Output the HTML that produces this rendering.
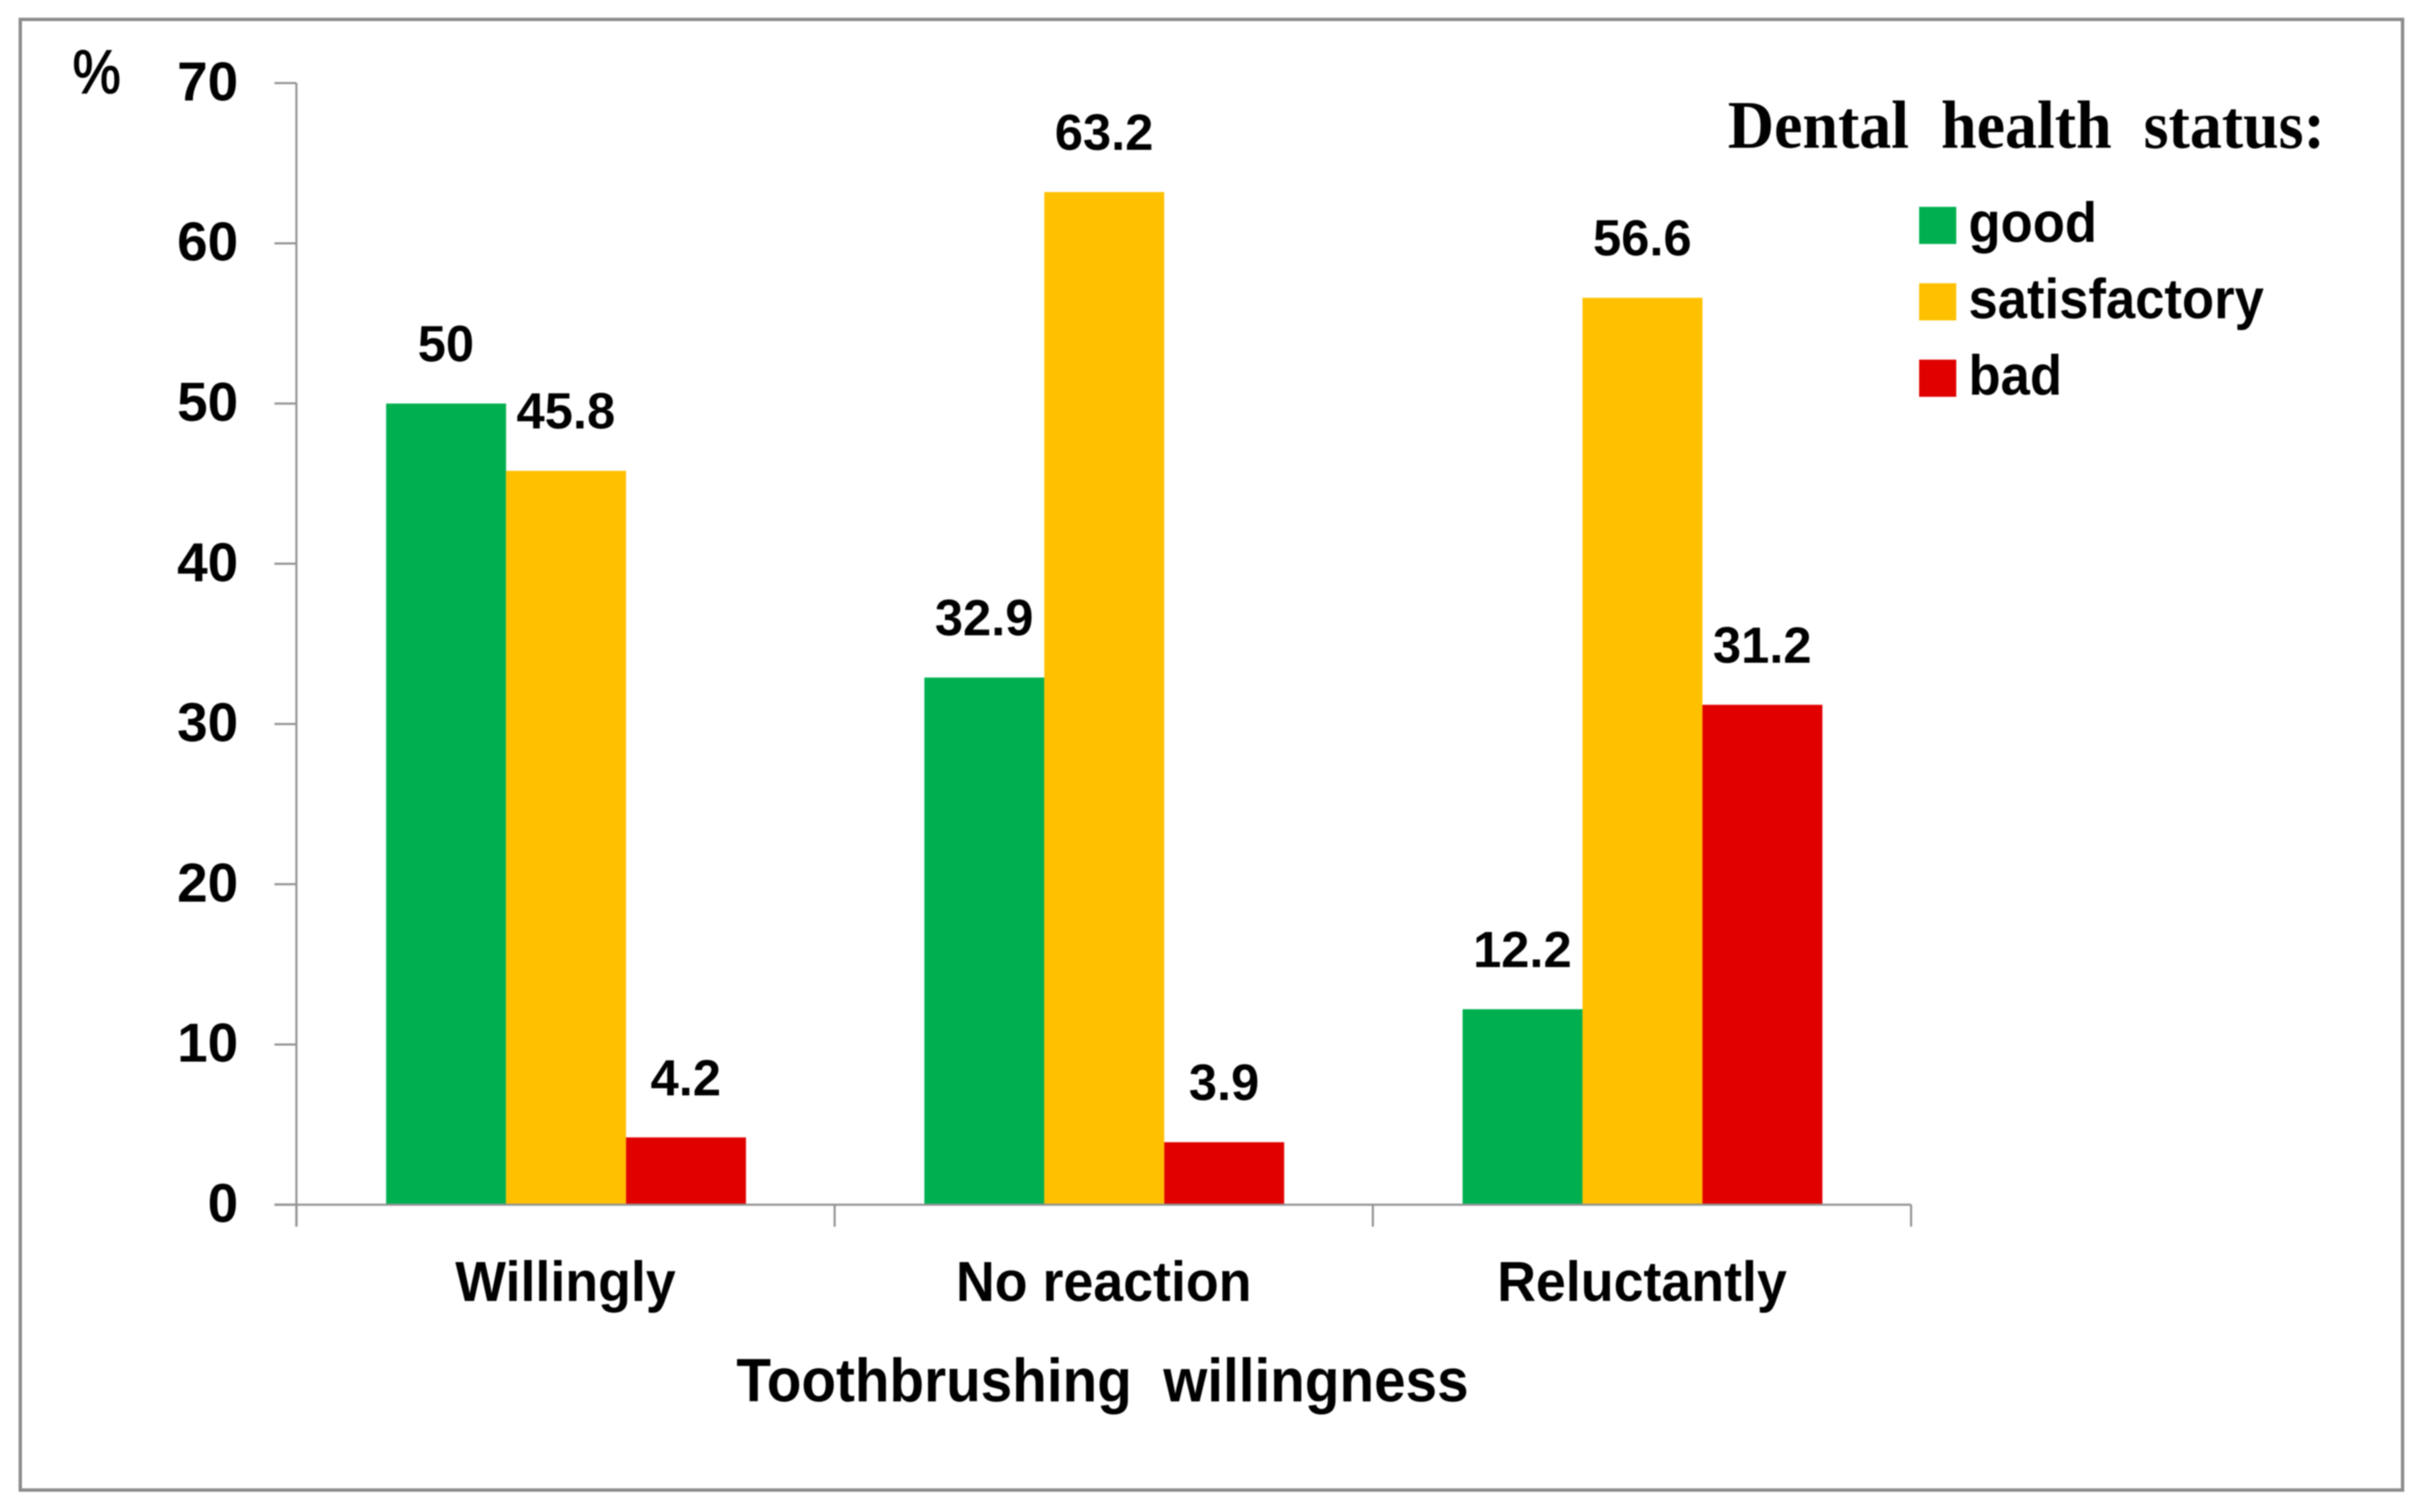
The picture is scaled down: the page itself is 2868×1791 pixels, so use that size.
<!DOCTYPE html>
<html lang="en">
<head>
<meta charset="utf-8">
<title>Dental health status by toothbrushing willingness</title>
<style>
  html, body { margin: 0; padding: 0; background: #fff; }
  svg { display: block; filter: blur(0.7px); }
  text { fill: #000; font-family: "Liberation Sans", sans-serif; font-weight: bold; }
  .legend-title { font-family: "Liberation Serif", serif; font-size: 80px; }
</style>
</head>
<body>
<svg id="chart" xmlns="http://www.w3.org/2000/svg" width="2868" height="1791" viewBox="0 0 2868 1791">
  <rect x="0" y="0" width="2868" height="1791" fill="#ffffff"/>
  <rect x="24" y="23" width="2821" height="1742" fill="none" stroke="#8c8c8c" stroke-width="4"/>
  <text x="86" y="110" font-size="72" textLength="57" lengthAdjust="spacingAndGlyphs" style="font-weight:normal;stroke:#000;stroke-width:1.6px">%</text>
  <text x="872" y="1660" font-size="72" textLength="867" lengthAdjust="spacingAndGlyphs" xml:space="preserve">Toothbrushing  willingness</text>
  <text class="legend-title" x="2046" y="175" textLength="707" lengthAdjust="spacingAndGlyphs" xml:space="preserve">Dental  health  status:</text>
</svg>
<script>
const categories = ["Willingly", "No reaction", "Reluctantly"];
const seriesNames = ["good", "satisfactory", "bad"];
const goodValues = [50, 32.9, 12.2];
const satisfactoryValues = [45.8, 63.2, 56.6];
const badValues = [4.2, 3.9, 31.2];
const yTickValues = [0, 10, 20, 30, 40, 50, 60, 70];

const SVG_NS = "http://www.w3.org/2000/svg";
const svg = document.getElementById("chart");
const allSeries = [goodValues, satisfactoryValues, badValues];
const seriesColors = ["#00b050", "#ffc000", "#e10000"];
const plot = { left: 351, right: 2263, top: 98.4, bottom: 1427, yMax: 70 };
const axisColor = "#939393";

function yScale(v) {
  return plot.bottom - (v / plot.yMax) * (plot.bottom - plot.top);
}
function bandWidth() {
  return (plot.right - plot.left) / categories.length;
}
function barWidth() {
  return bandWidth() / (allSeries.length + 1.5);
}
function categoryLeft(i) {
  return plot.left + i * bandWidth();
}
function categoryCenter(i) {
  return categoryLeft(i) + bandWidth() / 2;
}
function barLeft(i, s) {
  return categoryLeft(i) + 0.75 * barWidth() + s * (barWidth() + 0.4);
}
function make(tag, attrs) {
  const el = document.createElementNS(SVG_NS, tag);
  for (const key in attrs) el.setAttribute(key, attrs[key]);
  svg.appendChild(el);
  return el;
}

// Bars
allSeries.forEach(function (values, s) {
  values.forEach(function (v, i) {
    const bar = make("rect", {
      x: barLeft(i, s),
      y: yScale(v),
      width: barWidth() + 0.4,
      height: plot.bottom - yScale(v),
      fill: seriesColors[s]
    });
    
    
  });
});

// Y axis
const yAxis = make("line", { x1: plot.left, x2: plot.left, y1: plot.top, y2: 1453, stroke: axisColor, "stroke-width": 2.5 });



yTickValues.forEach(function (t) {
  const tick = make("line", { x1: 325, x2: plot.left, y1: yScale(t), y2: yScale(t), stroke: axisColor, "stroke-width": 2.5 });
  
  
  const label = make("text", { x: 282, y: yScale(t) + 20.5, "text-anchor": "end", "font-size": 65 });
  label.textContent = String(t);
  
  
});

// X axis
const xAxis = make("line", { x1: 325, x2: plot.right, y1: plot.bottom, y2: plot.bottom, stroke: axisColor, "stroke-width": 2.5 });



for (let i = 0; i <= categories.length; i++) {
  const tick = make("line", { x1: categoryLeft(i), x2: categoryLeft(i), y1: plot.bottom, y2: 1453, stroke: axisColor, "stroke-width": 2.5 });
  
  
}

categories.forEach(function (c, i) {
  const label = make("text", {
    transform: "translate(" + categoryCenter(i) + ",1541) scale(0.95,1)",
    "text-anchor": "middle",
    "font-size": 67
  });
  label.textContent = c;
  
  
});

// Value labels
allSeries.forEach(function (values, s) {
  values.forEach(function (v, i) {
    const label = make("text", {
      x: barLeft(i, s) + barWidth() / 2,
      y: yScale(v) - 50,
      "text-anchor": "middle",
      "font-size": 60
    });
    label.textContent = String(v);
    
    
  });
});

// Legend
seriesNames.forEach(function (name, s) {
  const rowTop = 245 + s * 90.5;
  const swatch = make("rect", { x: 2272.5, y: rowTop, width: 44, height: 44, fill: seriesColors[s] });
  
  
  const label = make("text", {
    transform: "translate(2331," + (rowTop + 41.5) + ") scale(0.93,1)",
    "font-size": 67
  });
  label.textContent = name;
  
  
});
</script>
</body>
</html>
